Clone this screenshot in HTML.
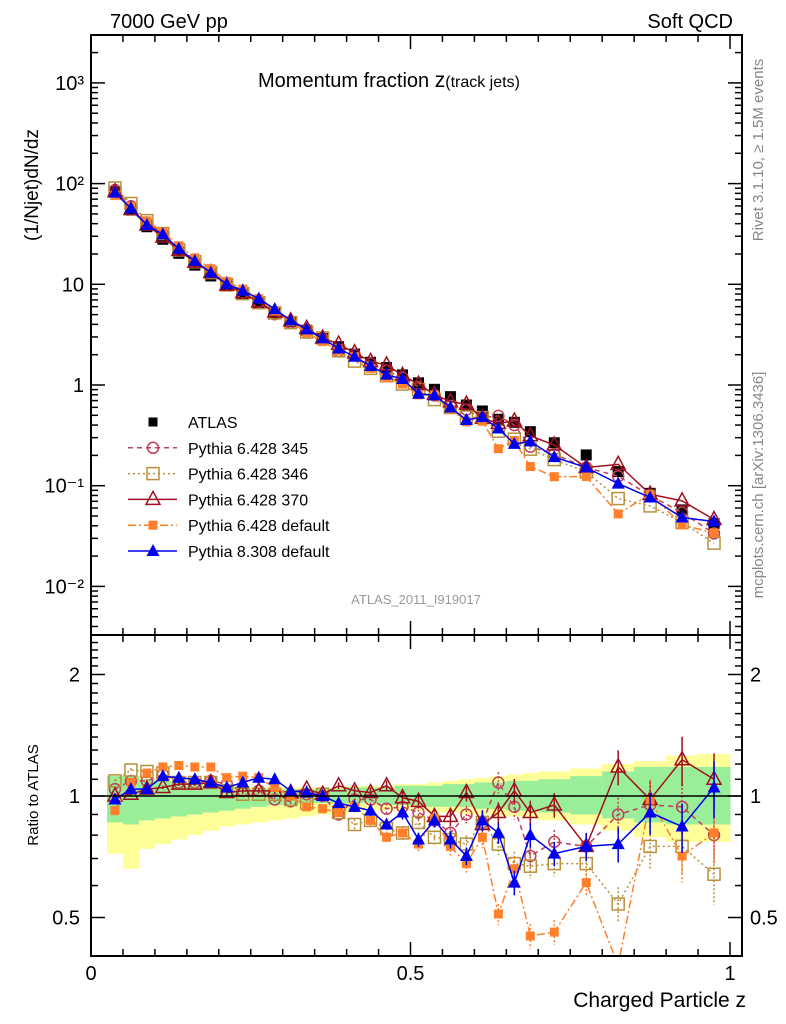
<!DOCTYPE html>
<html><head><meta charset="utf-8"><style>
html,body{margin:0;padding:0;background:#fff;}
svg{display:block;font-family:"Liberation Sans",sans-serif;}
</style></head><body>
<svg id="chart" width="786" height="1024" viewBox="0 0 786 1024" xmlns="http://www.w3.org/2000/svg">
<g id="bands"></g>
<g id="grid"></g>
<g id="series"></g>
<g id="axes"></g>
<text x="110" y="28" font-size="20">7000 GeV pp</text>
<text x="733" y="28" font-size="20" text-anchor="end">Soft QCD</text>
<text x="258" y="87" font-size="20">Momentum fraction <tspan font-size="21">z</tspan><tspan font-size="16">(track jets)</tspan></text>
<text x="416" y="604" font-size="13" fill="#999" text-anchor="middle">ATLAS_2011_I919017</text>
<text transform="translate(38,185) rotate(-90)" font-size="19" text-anchor="middle">(1/Njet)dN/dz</text>
<text transform="translate(38,795) rotate(-90)" font-size="15" text-anchor="middle">Ratio to ATLAS</text>
<text x="746" y="1007" font-size="21" text-anchor="end">Charged Particle z</text>
<text transform="translate(763,150) rotate(-90)" font-size="15" fill="#888" text-anchor="middle">Rivet 3.1.10, ≥ 1.5M events</text>
<text transform="translate(763,485) rotate(-90)" font-size="15" fill="#888" text-anchor="middle">mcplots.cern.ch [arXiv:1306.3436]</text>
<g id="legend"></g>
</svg>
<script>
const zCenters=[0.0375,0.0625,0.0875,0.1125,0.1375,0.1625,0.1875,0.2125,0.2375,0.2625,0.2875,0.3125,0.3375,0.3625,0.3875,0.4125,0.4375,0.4625,0.4875,0.5125,0.5375,0.5625,0.5875,0.6125,0.6375,0.6625,0.6875,0.725,0.775,0.825,0.875,0.925,0.975];
const binEdges=[0.025,0.05,0.075,0.1,0.125,0.15,0.175,0.2,0.225,0.25,0.275,0.3,0.325,0.35,0.375,0.4,0.425,0.45,0.475,0.5,0.525,0.55,0.575,0.6,0.625,0.65,0.675,0.7,0.75,0.8,0.85,0.9,0.95,1.0];
const atlas=[83,54.7,37.3,28,20.3,15.5,12.1,9.6,8.0,6.5,5.15,4.25,3.5,2.9,2.4,2.03,1.68,1.49,1.26,1.05,0.906,0.766,0.633,0.552,0.457,0.426,0.344,0.267,0.202,0.138,0.084,0.0575,0.042];
const ratio345=[1.04,1.09,1.09,1.13,1.08,1.08,1.09,1.07,1.03,1.03,0.98,0.97,1.01,1.0,0.90,0.98,0.98,0.93,0.94,0.91,0.87,0.81,0.90,0.86,1.08,0.94,0.71,0.77,0.75,0.90,0.95,0.94,0.80];
const ratio346=[1.09,1.16,1.15,1.14,1.08,1.08,1.08,1.03,1.01,1.01,1.01,0.98,0.96,1.01,0.91,0.85,0.87,0.83,0.81,0.86,0.79,0.78,0.76,0.86,0.76,0.68,0.67,0.68,0.68,0.54,0.75,0.75,0.64];
const ratio370=[1.0,1.01,1.04,1.05,1.07,1.07,1.08,1.02,1.03,1.03,1.03,1.02,1.04,1.01,1.06,1.03,1.02,1.06,0.99,0.97,0.89,0.89,1.02,0.85,0.91,1.03,0.91,0.95,0.75,1.18,0.98,1.23,1.10];
const ratioDef6=[0.92,1.08,1.14,1.18,1.19,1.18,1.18,1.11,1.12,1.11,1.05,1.0,0.94,0.93,0.91,0.94,0.87,0.79,0.81,0.76,0.88,0.75,0.68,0.79,0.51,0.66,0.45,0.46,0.61,0.38,0.98,0.71,0.81];
const ratioPy8=[0.98,1.04,1.04,1.12,1.11,1.10,1.08,1.05,1.08,1.11,1.10,1.03,1.02,1.00,0.96,0.94,0.92,0.85,0.91,0.78,0.87,0.78,0.71,0.87,0.81,0.61,0.80,0.72,0.75,0.76,0.91,0.84,1.05];
const mcRelErr=[0.01,0.01,0.01,0.01,0.01,0.01,0.01,0.015,0.015,0.015,0.015,0.02,0.02,0.02,0.02,0.03,0.03,0.03,0.04,0.04,0.04,0.05,0.05,0.06,0.06,0.07,0.07,0.07,0.08,0.1,0.12,0.14,0.16];
const statUp=[1.12,1.12,1.10,1.09,1.08,1.07,1.06,1.05,1.05,1.04,1.04,1.04,1.04,1.04,1.04,1.05,1.05,1.05,1.06,1.06,1.06,1.07,1.07,1.08,1.08,1.09,1.09,1.10,1.12,1.15,1.18,1.18,1.18];
const statDn=[0.86,0.85,0.87,0.88,0.89,0.90,0.91,0.92,0.93,0.94,0.95,0.95,0.96,0.96,0.96,0.96,0.96,0.95,0.95,0.95,0.94,0.94,0.94,0.93,0.93,0.92,0.92,0.91,0.90,0.88,0.86,0.85,0.85];
const totUp=[1.12,1.12,1.10,1.10,1.09,1.08,1.07,1.06,1.06,1.05,1.05,1.05,1.05,1.05,1.05,1.06,1.06,1.06,1.07,1.07,1.08,1.09,1.10,1.11,1.12,1.13,1.14,1.15,1.17,1.20,1.22,1.26,1.27];
const totDn=[0.72,0.66,0.74,0.76,0.78,0.80,0.82,0.84,0.85,0.86,0.87,0.88,0.89,0.90,0.90,0.91,0.92,0.92,0.92,0.92,0.91,0.91,0.90,0.90,0.89,0.89,0.88,0.87,0.85,0.82,0.79,0.77,0.77];
const mainTickLabels=["10⁻²","10⁻¹","1","10","10²","10³"];
const ratioTickValues=[0.5,1,2];
const xTickLabels=["0","0.5","1"];

const NS="http://www.w3.org/2000/svg";
const L=91,R=742,XR=639,MT=35,MB=635,RT=635,RB=956;
const X=z=>L+z*XR;
const YM=v=>385-Math.log10(v)*100.7;
const YR=r=>796-Math.log2(r)*121.5;
function mk(tag,attrs,parent){const e=document.createElementNS(NS,tag);for(const k in attrs)e.setAttribute(k,attrs[k]);parent.appendChild(e);return e;}
const gB=document.getElementById('bands'),gA=document.getElementById('axes'),gS=document.getElementById('series'),gL=document.getElementById('legend');

// bands
for(let i=0;i<zCenters.length;i++){
  const x0=X(binEdges[i]),x1=X(binEdges[i+1]);
  let r=mk('rect',{x:x0,y:YR(totUp[i]),width:x1-x0+0.5,height:YR(totDn[i])-YR(totUp[i]),fill:'#ffff99'},gB);
  
  
  r=mk('rect',{x:x0,y:YR(statUp[i]),width:x1-x0+0.5,height:YR(statDn[i])-YR(statUp[i]),fill:'#99ee99'},gB);
  
  
}
// frames
let f=mk('rect',{x:L,y:MT,width:R-L,height:MB-MT,fill:'none',stroke:'#000','stroke-width':2},gA);


f=mk('rect',{x:L,y:RT,width:R-L,height:RB-RT,fill:'none',stroke:'#000','stroke-width':2},gA);


let ref=mk('line',{x1:L,x2:R,y1:YR(1),y2:YR(1),stroke:'#000','stroke-width':1.5},gA);


// x ticks
for(let k=0;k<=20;k++){
  const z=k*0.05,x=X(z),len=(k%10===0)?14:7;
  for(const yb of [MB,RB]){mk('line',{x1:x,x2:x,y1:yb,y2:yb-len,stroke:'#000','stroke-width':1.5},gA);}
  for(const yt of [MT,RT]){mk('line',{x1:x,x2:x,y1:yt,y2:yt+len,stroke:'#000','stroke-width':1.5},gA);}
}
xTickLabels.forEach((t,i)=>{const el=mk('text',{x:X(i*0.5),y:980,'font-size':20,'text-anchor':'middle'},gA);el.textContent=t;
  
  });
// main y ticks
for(let d=-3;d<=3;d++){
  for(let m=1;m<=9;m++){
    const v=m*Math.pow(10,d),y=YM(v);
    if(y<MT||y>MB)continue;
    const len=m===1?14:7;
    mk('line',{x1:L,x2:L+len,y1:y,y2:y,stroke:'#000','stroke-width':1.5},gA);
    mk('line',{x1:R,x2:R-len,y1:y,y2:y,stroke:'#000','stroke-width':1.5},gA);
  }
}
mainTickLabels.forEach((t,i)=>{const el=mk('text',{x:84,y:YM(Math.pow(10,i-2))+7,'font-size':20,'text-anchor':'end'},gA);el.textContent=t;
  
  });
// ratio y ticks
for(let v=0.4;v<=2.5;v+=0.1){
  const vv=Math.round(v*10)/10,y=YR(vv);if(y<RT||y>RB)continue;
  const major=[0.5,1,2].includes(vv),len=major?14:7;
  mk('line',{x1:L,x2:L+len,y1:y,y2:y,stroke:'#000','stroke-width':1.5},gA);
  mk('line',{x1:R,x2:R-len,y1:y,y2:y,stroke:'#000','stroke-width':1.5},gA);
}
ratioTickValues.forEach(v=>{
  let el=mk('text',{x:80,y:YR(v)+7,'font-size':20,'text-anchor':'end'},gA);el.textContent=String(v);
  
  
  el=mk('text',{x:750,y:YR(v)+7,'font-size':20},gA);el.textContent=String(v);
  
  
});

function marker(type,x,y,col,p){
  if(type==='sq')return mk('rect',{x:x-5.5,y:y-5.5,width:11,height:11,fill:col},p);
  if(type==='osq')return mk('rect',{x:x-6,y:y-6,width:12,height:12,fill:'none',stroke:col,'stroke-width':1.5},p);
  if(type==='circ')return mk('circle',{cx:x,cy:y,r:5.5,fill:'none',stroke:col,'stroke-width':1.5},p);
  if(type==='otri')return mk('path',{d:`M${x},${y-8}L${x+7},${y+5}L${x-7},${y+5}Z`,fill:'none',stroke:col,'stroke-width':1.5},p);
  if(type==='fsq')return mk('rect',{x:x-4.5,y:y-4.5,width:9,height:9,fill:col},p);
  if(type==='ftri')return mk('path',{d:`M${x},${y-7}L${x+6.5},${y+5}L${x-6.5},${y+5}Z`,fill:col},p);
}
const series=[
 {name:'Pythia 6.428 345',ratio:ratio345,col:'#c0405a',dash:'5,4',mk:'circ',id:'pythia6-345'},
 {name:'Pythia 6.428 346',ratio:ratio346,col:'#b8903c',dash:'2,3',mk:'osq',id:'pythia6-346'},
 {name:'Pythia 6.428 370',ratio:ratio370,col:'#a01020',dash:'',mk:'otri',id:'pythia6-370'},
 {name:'Pythia 6.428 default',ratio:ratioDef6,col:'#ff7f2a',dash:'8,3,2,3',mk:'fsq',id:'pythia6-default'},
 {name:'Pythia 8.308 default',ratio:ratioPy8,col:'#0000ee',dash:'',mk:'ftri',id:'pythia8-default'}
];
series.forEach(s=>{
  const g=mk('g',{},gS);
  
  
  const vals=atlas.map((a,i)=>a*s.ratio[i]);
  let ptsM=vals.map((v,i)=>X(zCenters[i])+','+YM(v)).join(' ');
  let ptsR=s.ratio.map((r,i)=>X(zCenters[i])+','+Math.min(Math.max(YR(r),RT),RB+20)).join(' ');
  const clip='ratioclip';
  let pl=mk('polyline',{points:ptsM,fill:'none',stroke:s.col,'stroke-width':1.5,'stroke-dasharray':s.dash},g);
  
  
  pl=mk('polyline',{points:ptsR,fill:'none',stroke:s.col,'stroke-width':1.5,'stroke-dasharray':s.dash,'clip-path':'url(#rc)'},g);
  
  
  vals.forEach((v,i)=>{
    const x=X(zCenters[i]);
    const r=s.ratio[i],e=mcRelErr[i]*r;
    if(YR(r)<RB){
      mk('line',{x1:x,x2:x,y1:YR(r+e),y2:Math.min(YR(Math.max(r-e,0.3)),RB),stroke:s.col,'stroke-width':1.5,'stroke-dasharray':s.dash?'2,2':''},g);
      let m=marker(s.mk,x,YR(r),s.col,g);
      
      
    }
    let m=marker(s.mk,x,YM(v),s.col,g);
    
    
  });
});
// atlas data points (drawn under MC? drawn first in main)
const gD=mk('g',{},gS);


gS.insertBefore(gD,gS.firstChild);
atlas.forEach((v,i)=>{
  const m=marker('sq',X(zCenters[i]),YM(v),'#000',gD);
  
  
});
const defs=mk('defs',{},document.getElementById('chart'));
const cp=mk('clipPath',{id:'rc'},defs);
mk('rect',{x:L,y:RT,width:R-L,height:RB-RT},cp);

// legend
const legRows=[{name:'ATLAS',col:'#000',dash:null,mk:'sq',id:'atlas'}].concat(series);
legRows.forEach((s,i)=>{
  const y=422+i*25.8;
  const g=mk('g',{},gL);
  
  
  if(s.dash!==null) mk('line',{x1:128,x2:177,y1:y,y2:y,stroke:s.col,'stroke-width':1.5,'stroke-dasharray':s.dash},g);
  if(s.mk==='sq') marker('fsq',153,y,'#000',g); else marker(s.mk,153,y,s.col,g);
  const t=mk('text',{x:188,y:y+6,'font-size':16},g);t.textContent=s.name;
});
</script>
</body></html>
